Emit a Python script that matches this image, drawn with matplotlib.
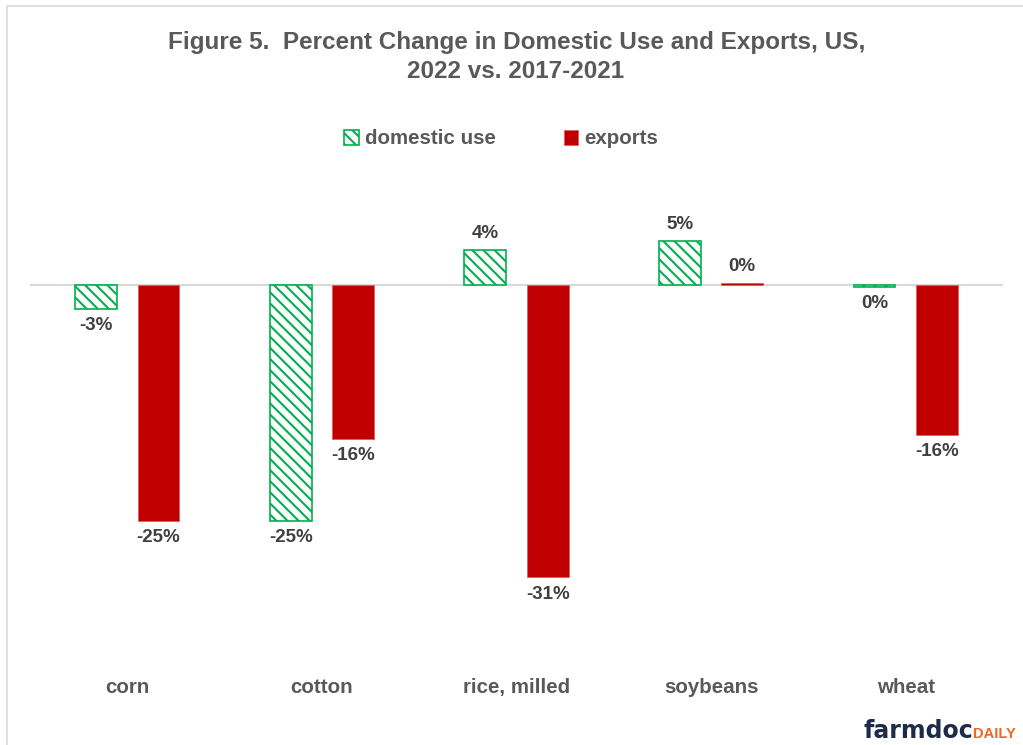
import numpy as np
import matplotlib.pyplot as plt
from matplotlib.patches import Rectangle

plt.rcParams['font.family'] = ['Liberation Sans', 'DejaVu Sans']
plt.rcParams['hatch.linewidth'] = 1.5

# data
crops = ['corn', 'cotton', 'rice, milled', 'soybeans', 'wheat']
domestic = [-2.5, -25.0, 3.7, 4.7, -0.2]
exports = [-25.0, -16.3, -31.0, 0.2, -15.9]
domestic_lbl = ['-3%', '-25%', '4%', '5%', '0%']
exports_lbl = ['-25%', '-16%', '-31%', '0%', '-16%']

W, H = 1023, 745
fig = plt.figure(figsize=(W / 100, H / 100), dpi=100)
ax = fig.add_axes([30 / W, (H - 662) / H, 973 / W, 471 / H])

# thin grey frame round the chart (runs off right and bottom edges)
fig.patches.append(Rectangle((6.5 / W, -0.1), 1.2, 1 - 6.5 / H + 0.1,
                             transform=fig.transFigure, fill=False,
                             edgecolor='#D9D9D9', linewidth=1.2))

x = np.arange(len(crops))
bw = 0.215
off = 0.16
green = '#00B050'
red = '#C00000'

b1 = ax.bar(x - off, domestic, bw, facecolor='white', edgecolor=green,
            hatch='\\\\\\', linewidth=1.2, label='domestic use', zorder=2)
b2 = ax.bar(x + off, exports, bw, color=red, edgecolor='#E06060',
            linewidth=0.6, label='exports', zorder=2)

ax.set_xlim(-0.5, len(crops) - 0.5)
ax.set_ylim(-40, 10)
ax.axhline(0, color='#D9D9D9', linewidth=1.5, zorder=1)

for bars, lbls in [(b1, domestic_lbl), (b2, exports_lbl)]:
    for rect, lab in zip(bars, lbls):
        h = rect.get_height()
        xc = rect.get_x() + rect.get_width() / 2
        if h >= 0:
            ax.annotate(lab, (xc, h), xytext=(0, 6), textcoords='offset points',
                        ha='center', va='bottom', fontsize=13.5, weight='bold', color='#404040')
        else:
            ax.annotate(lab, (xc, h), xytext=(0, -6), textcoords='offset points',
                        ha='center', va='top', fontsize=13.5, weight='bold', color='#404040')

# category names along the bottom
for xi, name in zip(x, crops):
    ax.text(xi, -42.7, name, ha='center', va='center', fontsize=14.8,
            weight='bold', color='#595959')

for s in ax.spines.values():
    s.set_visible(False)
ax.set_xticks([])
ax.set_yticks([])

fig.text(517 / W, 1 - 42 / H, 'Figure 5.  Percent Change in Domestic Use and Exports, US,',
         ha='center', va='center', fontsize=17.5, weight='bold', color='#595959')
fig.text(516 / W, 1 - 72 / H, '2022 vs. 2017-2021',
         ha='center', va='center', fontsize=17.5, weight='bold', color='#595959')

fig.legend(handles=[b1, b2], loc='center', bbox_to_anchor=(0.49, 1 - 139 / H),
           ncol=2, frameon=False, handlelength=0.7, handleheight=0.7,
           handletextpad=0.3, columnspacing=3.3, labelcolor='#595959',
           prop={'weight': 'bold', 'size': 14.8})

# logo
fig.text(973 / W, 1 - 738 / H, 'DAILY', ha='left', va='baseline',
         fontsize=10.5, weight='bold', color='#F26522')
fig.text(973 / W, 1 - 738 / H, 'farmdoc', ha='right', va='baseline',
         fontsize=17, weight='bold', color='#1C2B4A', family='DejaVu Sans')

fig.savefig('out.png', dpi=100)
